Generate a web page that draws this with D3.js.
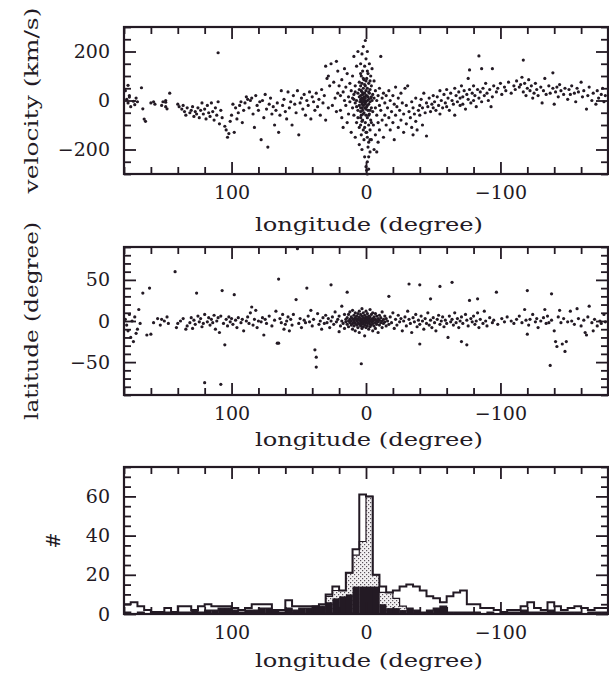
<!DOCTYPE html>
<html>
<head>
<meta charset="utf-8">
<script src="https://cdnjs.cloudflare.com/ajax/libs/d3/7.8.5/d3.min.js"></script>
<style>
  body { margin: 0; background: #fff; }
  text { font-family: "DejaVu Serif", serif; fill: #231a24; }
</style>
</head>
<body>
<div id="chart"></div>
<script>
// velocity (km/s) vs longitude (deg): [l, v]
const velPoints = [
  [178,5],[177,-10],[176,20],[175,-25],[177,62],[173,-3],[172,-17],[171,10],[179,40],[176,14],[167,52],[166,-34],[165,-76],[164,-85],[170,-5],
  [160,-10],[158,-5],[157,-15],[152,-20],[151,-5],[149,0],[149,-7],[149,-25],[148,-34],[146,30],
  [140,-15],[139,-25],[137,-35],[136,-20],[135,-45],[134,-60],[133,-30],[131,-50],[130,-40],[129,-25],[128,-65],[127,-45],[126,-55],[125,-30],[124,-70],[123,-40],[122,-10],[121,-55],[120,-35],[119,-75],[118,-20],[117,-50],[116,-65],[115,-10],[114,-45],[113,-80],[112,-30],[111,-60],[110,-5],[109,-95],[108,-40],[107,-70],[110,195],
  [105,-105],[104,-120],[103,-150],[102,-135],[101,-85],[100,-60],[99,-15],[98,-130],[97,-30],[96,-75],[95,-50],[94,-20],[93,-5],[92,-90],[91,-40],[90,-10],[89,15],
  [88,5],[87,-30],[86,0],[85,10],[84,-55],[83,-110],[82,20],[81,-20],[80,-40],[79,-5],[78,-160],[77,0],[76,-70],[75,25],[74,-35],[73,-190],[72,-15],[71,10],[70,-55],
  [69,-25],[68,-100],[67,-40],[66,-10],[65,-130],[64,-60],[63,40],[62,-20],[61,5],[60,-45],[59,-75],[58,35],[57,-30],[56,-5],[55,-100],[54,20],[53,-15],[52,-50],[51,40],[50,-140],
  [49,-10],[48,10],[47,-35],[46,25],[45,-60],[44,0],[43,-20],[42,35],[41,-75],[40,15],[39,-5],[38,-40],[37,30],[36,-25],[35,5],[34,-60],[33,45],[32,-10],[31,20],[30,-80],[29,90],[28,-30],[27,60],[30,140],
  [28,100],[26,150],[24,75],[22,160],[21,120],[20,60],[25,-20],[23,10],[22,-45],[21,30],
  [19,20],[19,-40],[18,85],[18,-70],[17,35],[17,-110],[16,0],[16,130],[15,-20],[15,55],[14,-90],[14,110],[13,15],[13,-55],[12,70],[12,-5],[11,40],[11,-130],[10,100],[10,-30],[10,10],
  [9,180],[9,-60],[9,25],[8,-10],[8,60],[8,-150],[7,140],[7,0],[7,-90],[6,30],[6,-40],[6,200],[5,-20],[5,75],[5,-180],[9,5],[8,35],[7,-25],[6,-70],[5,15],
  [4.5,-5],[4,20],[4,-30],[4,60],[4,-100],[4,150],[3.5,0],[3.5,40],[3.5,-60],[3.5,100],[3.5,-140],[3,10],[3,-15],[3,70],[3,-200],[3,190],[2.5,-40],[2.5,25],[2.5,120],[2.5,-80],[2,5],[2,-20],[2,50],[2,-120],[2,220],[1.5,15],[1.5,-50],[1.5,85],[1.5,-160],[1,0],[1,30],[1,-30],[1,140],[1,-230],[0.5,10],[0.5,-10],[0.5,60],[0.5,-90],[0.5,245],[0,-5],[0,40],[0,-60],[0,-270],[0,170],
  [4,-45],[3,-85],[2,90],[1,-110],[0,80],[4,5],[3,35],[2,-55],[1,65],[0,-35],[5,45],[4,-70],[3,-5],[2,30],[1,-15],[0,20],[5,-110],[4,110],[3,-30],[2,-5],[1,10],[0,-130],
  [-0.5,20],[-0.5,-25],[-0.5,90],[-0.5,-130],[-1,0],[-1,50],[-1,-70],[-1,-250],[-1,200],[-1.5,15],[-1.5,-40],[-1.5,110],[-1.5,-190],[-2,5],[-2,-15],[-2,70],[-2,-100],[-2,-280],[-2.5,30],[-2.5,-55],[-2.5,150],[-3,-5],[-3,45],[-3,-120],[-3,-210],[-3.5,10],[-3.5,-80],[-3.5,100],[-4,-30],[-4,60],[-4,-160],[-4.5,0],[-4.5,130],[-5,-45],[-5,25],
  [-1,-20],[-2,35],[-3,-40],[-4,15],[-1,120],[-2,-60],[-3,80],[-4,-90],[-1,-150],[-2,-170],[-3,-160],[-2,-230],[-1,-300],[-0.5,-285],
  [-5.5,-100],[-6,10],[-6,-200],[-6,80],[-7,-30],[-7,-140],[-7,40],[-8,-60],[-8,0],[-8,-210],[-9,20],[-9,-90],[-9,-170],[-10,-20],[-10,50],[-10,-120],[-11,180],[-11,-40],[-12,10],[-12,-80],[-13,-150],[-13,30],[-14,-10],[-14,-60],[-15,-100],[-15,20],
  [-16,-30],[-17,40],[-17,-70],[-18,-120],[-18,0],[-19,-45],[-20,20],[-20,-90],[-21,-160],[-21,-15],[-22,55],[-22,-60],[-23,-25],[-24,-110],[-24,10],[-25,-40],[-26,-80],[-26,30],[-27,-10],[-28,-130],[-28,-55],[-29,50],[-30,-20],[-30,-95],[-31,60],[-32,-45],
  [-33,-70],[-34,-110],[-34,-5],[-35,-140],[-35,-30],[-36,-55],[-37,10],[-37,-85],[-38,-120],[-39,-40],[-40,-20],[-40,-60],[-41,5],[-42,-30],[-42,-100],[-43,30],[-44,-50],[-45,-145],[-45,-10],[-46,-25],[-47,10],[-48,-45],[-49,-15],[-50,20],[-50,-30],
  [-51,-5],[-52,-40],[-53,15],[-54,-20],[-55,40],[-55,-55],[-56,0],[-57,-30],[-58,25],[-59,-10],[-60,45],[-60,-25],[-61,10],[-62,-40],[-63,30],[-64,0],[-65,-15],[-66,50],[-66,-60],[-67,20],[-68,-5],[-69,35],[-70,-20],[-70,10],
  [-71,60],[-72,15],[-72,-15],[-73,40],[-74,-35],[-75,25],[-76,90],[-76,5],[-77,125],[-77,45],[-78,-10],[-79,30],[-80,60],[-80,0],[-81,20],[-82,-25],[-83,45],[-84,182],[-84,10],[-85,35],[-86,130],[-86,-5],[-87,50],[-88,20],[-89,70],[-90,30],
  [-91,0],[-92,45],[-93,-25],[-94,130],[-94,15],[-95,60],[-97,35],[-98,50],[-100,70],[-101,25],[-103,55],[-104,40],[-106,75],[-108,30],[-110,60],[-111,45],[-112,80],[-114,55],[-115,65],[-116,95],[-117,165],[-117,35],[-118,70],[-119,20],[-120,50],
  [-121,85],[-122,40],[-123,60],[-124,10],[-125,30],[-126,70],[-127,45],[-128,20],[-130,55],[-131,-10],[-132,40],[-133,90],[-134,25],[-136,60],[-137,30],[-139,113],[-139,50],[-140,-15],[-141,35],[-142,55],[-143,15],[-144,65],[-145,40],[-147,25],[-148,50],[-150,5],
  [-151,45],[-152,25],[-153,60],[-155,30],[-156,-5],[-157,50],[-158,35],[-160,75],[-161,15],[-162,40],[-164,-35],[-165,20],[-166,55],[-168,0],[-169,30],[-171,-15],[-172,40],[-173,10],[-175,25],[-176,50],[-177,-5],[-178,20]
];

// latitude (deg) vs longitude (deg): [l, b]
const latPoints = [
  [179,2],[178,-5],[177,-12],[176,8],[175,-20],[174,0],[173,-25],[172,5],[171,-15],[170,-10],[169,14],[168,-3],[166,34],[163,-17],[161,40],[160,-16],[158,-2],[155,3],[153,-5],[152,2],[150,0],
  [148,5],[147,-3],[142,60],[141,-8],[140,-3],[138,0],[136,3],[134,-10],[133,-6],[131,-2],[130,4],[129,-9],[128,1],[127,-4],[126,34],[125,6],[124,-1],[123,3],[122,-7],[121,-3],[120,8],[118,-1],[117,4],[120,-75],
  [116,-5],[115,2],[114,-2],[113,7],[112,-10],[111,0],[110,4],[109,-14],[108,-77],[108,6],[107,37],[106,-3],[105,-29],[104,2],[103,-6],[102,5],[101,-1],[100,3],[99,-4],[98,32],[97,1],[96,-8],[95,4],[93,-2],[92,2],[91,-12],
  [89,0],[88,5],[87,-3],[86,10],[85,17],[84,-5],[83,2],[82,13],[81,-8],[80,0],[78,-1],[77,4],[76,-17],[75,2],[74,-3],[72,6],[70,-6],[68,1],[67,12],[66,-27],[65,51],[65,-27],[64,3],[63,-2],[62,8],[61,-10],[60,-4],
  [59,0],[58,5],[57,-12],[56,2],[55,-5],[54,8],[52,26],[51,88],[50,-3],[49,3],[48,-8],[46,1],[45,-2],[44,40],[43,6],[42,-1],[41,13],[40,-6],[39,2],[38,-35],[37,-44],[37,-56],[36,9],[35,-4],[34,0],[33,-10],[32,4],[31,-3],[30,7],
  [29,-2],[28,3],[27,-8],[26,44],[26,0],[25,5],[24,-4],[23,11],[22,-1],[21,2],[20,-13],[20,6],[19,-6],[18,18],[18,0],[17,-3],[16,8],[16,-9],[15,2],[15,-1],[14,35],
  [14,4],[14,-4],[13,0],[13,8],[13,-7],[12,2],[12,-2],[12,11],[11,-5],[11,5],[11,0],[10,-10],[10,3],[10,-3],[10,13],[9,1],[9,-6],[9,7],[9,-1],[8,4],[8,-3],[8,-12],[8,10],[7,0],[7,-5],[7,6],[7,2],[6,-2],[6,9],[6,-8],[6,3],[5,1],[5,-4],[5,5],[5,-14],[5,12],
  [4,0],[4,-2],[4,3],[4,-6],[4,8],[3,-1],[3,2],[3,-4],[3,6],[3,-9],[3,15],[2,0],[2,-3],[2,4],[2,-7],[2,10],[1,1],[1,-1],[1,3],[1,-5],[1,7],[1,-18],[0,0],[0,2],[0,-2],[0,5],[0,-8],[0,12],[3.5,-52],
  [-1,1],[-1,-3],[-1,4],[-1,-6],[-1,9],[-2,0],[-2,-2],[-2,3],[-2,-10],[-2,6],[-3,1],[-3,-4],[-3,5],[-3,-7],[-3,14],[-4,-1],[-4,2],[-4,-5],[-4,8],[-5,0],[-5,3],[-5,-3],[-5,-12],[-5,10],
  [-6,1],[-6,-6],[-6,5],[-7,-2],[-7,2],[-7,9],[-7,-9],[-8,0],[-8,-4],[-8,6],[-9,3],[-9,-1],[-9,-14],[-10,1],[-10,-5],[-10,7],[-11,-2],[-11,4],[-12,0],[-12,-8],[-12,11],[-13,2],[-13,-3],[-14,6],[-14,-1],[-15,-6],[-15,3],
  [-16,0],[-17,30],[-17,-4],[-18,5],[-19,-2],[-20,10],[-21,-9],[-22,2],[-23,-5],[-24,7],[-25,-1],[-26,3],[-27,-12],[-28,0],[-29,5],[-30,-6],[-31,12],[-32,45],[-32,2],[-33,-3],[-34,-14],[-35,4],[-36,-1],[-37,8],[-38,-7],[-39,1],[-40,44],[-40,-28],[-40,-4],
  [-41,6],[-42,0],[-43,-10],[-44,3],[-45,-3],[-46,10],[-47,-5],[-48,27],[-48,1],[-49,-8],[-50,4],[-51,-2],[-52,-12],[-53,2],[-54,7],[-55,42],[-55,-4],[-56,0],[-57,5],[-58,-7],[-59,1],[-60,-3],[-61,-20],[-62,6],[-63,-1],[-64,47],[-64,2],[-65,-5],[-66,10],[-67,-2],[-68,3],[-69,-8],[-70,0],
  [-71,-25],[-71,5],[-72,-3],[-74,8],[-75,-29],[-75,1],[-76,-6],[-77,25],[-78,3],[-79,-1],[-80,6],[-81,-4],[-82,0],[-83,27],[-83,10],[-84,-8],[-85,2],[-87,-3],[-88,12],[-89,0],[-90,-6],[-92,4],[-94,-2],[-95,1],[-97,35],[-98,-4],
  [-101,3],[-103,-1],[-105,5],[-108,0],[-110,-3],[-112,2],[-114,6],[-116,-2],[-118,14],[-119,1],[-120,37],[-120,-16],[-121,-5],[-122,2],[-124,8],[-126,-1],[-127,3],[-128,-8],[-130,0],[-132,4],[-133,14],[-134,-3],[-135,6],[-136,-2],[-137,-54],[-138,33],[-138,1],[-140,-12],[-141,-25],[-142,-31],[-143,5],[-144,13],[-145,-2],[-146,-28],[-147,3],[-148,-37],[-149,-25],[-150,-1],
  [-152,12],[-153,0],[-155,-4],[-157,15],[-158,3],[-160,-6],[-162,1],[-163,-14],[-164,-17],[-165,5],[-166,18],[-168,-2],[-169,-12],[-170,2],[-172,-6],[-174,0],[-175,-3],[-177,8],[-178,-1]
];

// histogram, 5-degree bins from l=180 down to l=-180
const binWidth = 5;
const histTotal = [
  5,6,4,2,1,1,3,1,4,4,
  2,4,5,4,4,4,3,2,3,5,
  5,5,2,2,7,4,4,4,4,5,
  10,14,12,21,33,61,60,20,14,11,
  12,14,15,14,12,9,8,6,9,11,
  12,5,5,3,3,2,1,2,2,4,
  6,3,2,6,4,2,3,4,3,2,
  3,3
];
const histDotted = [
  1,0,1,0,0,0,1,0,1,1,
  2,1,2,2,3,3,2,1,2,2,
  3,3,2,1,3,2,3,3,4,4,
  9,12,12,21,30,37,60,20,11,11,
  8,4,3,2,1,2,3,4,1,1,
  1,1,1,0,1,0,0,1,1,2,
  1,1,1,2,1,1,1,1,0,1,
  1,1
];
const histBlack = [
  1,0,1,0,0,0,1,0,1,1,
  2,1,2,2,3,3,2,1,2,2,
  3,3,2,1,3,2,3,3,4,4,
  6,8,9,10,14,14,14,14,5,3,
  3,2,3,2,1,2,3,4,1,1,
  1,1,1,0,1,0,0,1,1,2,
  1,1,1,2,1,1,1,1,0,1,
  1,1
];

const lonMajor = [100, 0, -100];
const velMajor = [200, 0, -200];
const latMajor = [50, 0, -50];
const countMajor = [0, 20, 40, 60];

const ink = "#231a24";
const W = 609, H = 675;

const svg = d3.select("#chart").append("svg")
    .attr("width", W).attr("height", H)
    .style("background", "#fff");

const x = d3.scaleLinear().domain([180, -180]).range([124, 608]);

const panels = [
  {y: d3.scaleLinear().domain([-300, 300]).range([174, 27]), minor: 50, major: velMajor,
   label: "velocity (km/s)", labelX: 38, labelLen: 186, xlabY: 231},
  {y: d3.scaleLinear().domain([-90, 90]).range([395, 247]), minor: 10, major: latMajor,
   label: "latitude (degree)", labelX: 38, labelLen: 198, xlabY: 446},
  {y: d3.scaleLinear().domain([0, 75]).range([614, 467]), minor: 5, major: countMajor,
   label: "#", labelX: 60, labelLen: null, xlabY: 667}
];

const lonMinor = d3.range(-180, 181, 20).filter(d => !lonMajor.includes(d));

function drawFrame(p) {
  const g = svg.append("g");
  const [y0, y1] = p.y.range();
  const yMinor = d3.range(p.y.domain()[0], p.y.domain()[1] + 0.001, p.minor).filter(d => !p.major.includes(d));

  g.append("g").attr("transform", `translate(0,${y0})`)
    .call(d3.axisBottom(x).tickValues(lonMinor).tickSize(-7).tickFormat(""));
  g.append("g").attr("class", "lab").attr("transform", `translate(0,${y0})`)
    .call(d3.axisBottom(x).tickValues(lonMajor).tickSize(-12).tickPadding(12));
  g.append("g").attr("transform", `translate(0,${y1})`)
    .call(d3.axisTop(x).tickValues(lonMinor).tickSize(-7).tickFormat(""));
  g.append("g").attr("transform", `translate(0,${y1})`)
    .call(d3.axisTop(x).tickValues(lonMajor).tickSize(-12).tickFormat(""));

  g.append("g").attr("transform", `translate(${x.range()[0]},0)`)
    .call(d3.axisLeft(p.y).tickValues(yMinor).tickSize(-7).tickFormat(""));
  g.append("g").attr("class", "lab").attr("transform", `translate(${x.range()[0]},0)`)
    .call(d3.axisLeft(p.y).tickValues(p.major).tickSize(-12).tickPadding(14));
  g.append("g").attr("transform", `translate(${x.range()[1]},0)`)
    .call(d3.axisRight(p.y).tickValues(yMinor).tickSize(-7).tickFormat(""));
  g.append("g").attr("transform", `translate(${x.range()[1]},0)`)
    .call(d3.axisRight(p.y).tickValues(p.major).tickSize(-12).tickFormat(""));

  g.selectAll(".domain").remove();
  g.selectAll(".tick line").attr("stroke", ink).attr("stroke-width", 1.8);
  g.selectAll(".lab text")
    .attr("font-family", "DejaVu Serif, serif")
    .attr("font-size", 19).attr("fill", ink);

  g.append("rect")
    .attr("x", x.range()[0]).attr("y", y1)
    .attr("width", x.range()[1] - x.range()[0]).attr("height", y0 - y1)
    .attr("fill", "none").attr("stroke", ink).attr("stroke-width", 2.2);

  const yl = svg.append("text")
    .attr("transform", `translate(${p.labelX},${p.y(p.y.domain().reduce((a, b) => (a + b) / 2))}) rotate(-90)`)
    .attr("text-anchor", "middle").attr("font-size", 19)
    .text(p.label);
  if (p.labelLen) yl.attr("textLength", p.labelLen).attr("lengthAdjust", "spacingAndGlyphs");

  svg.append("text")
    .attr("x", 369).attr("y", p.xlabY)
    .attr("text-anchor", "middle").attr("font-size", 19)
    .attr("textLength", 228).attr("lengthAdjust", "spacingAndGlyphs")
    .text("longitude (degree)");
}

// stipple pattern
const defs = svg.append("defs");
const pat = defs.append("pattern").attr("id", "stip")
    .attr("width", 4).attr("height", 4).attr("patternUnits", "userSpaceOnUse");
pat.append("rect").attr("width", 4).attr("height", 4).attr("fill", "#f2f0f2");
pat.append("rect").attr("x", 0).attr("y", 0).attr("width", 1.2).attr("height", 1.2).attr("fill", "#5a525a");
pat.append("rect").attr("x", 2).attr("y", 2).attr("width", 1.2).attr("height", 1.2).attr("fill", "#5a525a");

// scatter panels
[[velPoints, panels[0]], [latPoints, panels[1]]].forEach(([pts, p]) => {
  svg.append("g").selectAll("circle").data(pts).enter().append("circle")
    .attr("cx", d => x(d[0])).attr("cy", d => p.y(d[1]))
    .attr("r", 1.6).attr("fill", ink);
});

// histogram panel
const hy = panels[2].y;
const bins = histTotal.map((t, i) => ({l0: 180 - i * binWidth, l1: 180 - (i + 1) * binWidth, t, s: histDotted[i], b: histBlack[i]}));
const hg = svg.append("g");
hg.selectAll("rect.s").data(bins).enter().append("rect")
  .attr("x", d => x(d.l0)).attr("width", d => x(d.l1) - x(d.l0))
  .attr("y", d => hy(d.s)).attr("height", d => hy(0) - hy(d.s))
  .attr("fill", "url(#stip)");
hg.selectAll("rect.b").data(bins).enter().append("rect")
  .attr("x", d => x(d.l0)).attr("width", d => x(d.l1) - x(d.l0) + 0.3)
  .attr("y", d => hy(d.b)).attr("height", d => hy(0) - hy(d.b))
  .attr("fill", ink);

function stepPts(key) {
  const pts = [[180, 0]];
  bins.forEach(d => pts.push([d.l0, d[key]]));
  pts.push([-180, bins[bins.length - 1][key]], [-180, 0]);
  return pts;
}
const step = d3.line().x(d => x(d[0])).y(d => hy(d[1])).curve(d3.curveStepAfter);
hg.append("path").attr("d", step(stepPts("s"))).attr("fill", "none").attr("stroke", ink).attr("stroke-width", 1.2);
hg.append("path").attr("d", step(stepPts("t"))).attr("fill", "none").attr("stroke", ink).attr("stroke-width", 2);

panels.forEach(drawFrame);
</script>
</body>
</html>
